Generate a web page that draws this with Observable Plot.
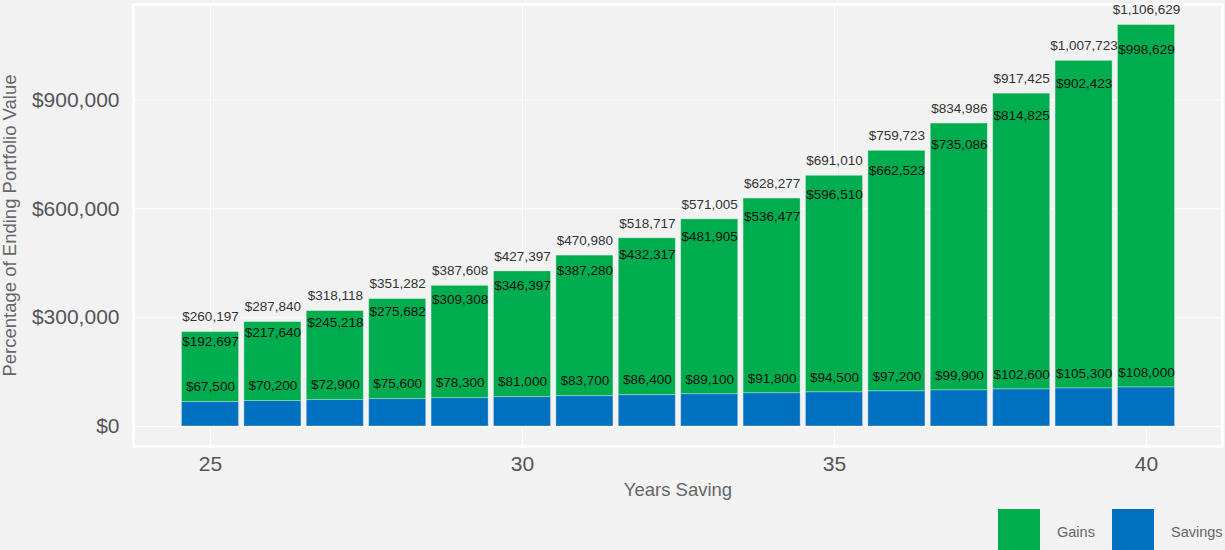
<!DOCTYPE html>
<html>
<head>
<meta charset="utf-8">
<script src="https://cdn.jsdelivr.net/npm/d3@7"></script>
<script src="https://cdn.jsdelivr.net/npm/@observablehq/plot@0.6"></script>
<style>
  html, body { margin: 0; padding: 0; background: #f2f2f2; }
  body { width: 1225px; height: 550px; overflow: hidden; font-family: "Liberation Sans", Arial, sans-serif; }
  #legend { position: relative; width: 1225px; height: 45px; }
  .sw { position: absolute; top: 4px; width: 42px; height: 42px; }
  .lt { position: absolute; top: 18px; font-size: 14.5px; color: #666; line-height: 18px; }
</style>
</head>
<body>
<div id="chart"></div>
<div id="legend"></div>
<script>
const years = [25, 26, 27, 28, 29, 30, 31, 32, 33, 34, 35, 36, 37, 38, 39, 40];
const savings = [67500, 70200, 72900, 75600, 78300, 81000, 83700, 86400, 89100, 91800, 94500, 97200, 99900, 102600, 105300, 108000];
const gains = [192697, 217640, 245218, 275682, 309308, 346397, 387280, 432317, 481905, 536477, 596510, 662523, 735086, 814825, 902423, 998629];
const totals = [260197, 287840, 318118, 351282, 387608, 427397, 470980, 518717, 571005, 628277, 691010, 759723, 834986, 917425, 1007723, 1106629];
const yTicks = [0, 300000, 600000, 900000];
const xTicks = [25, 30, 35, 40];
const seriesNames = ["Gains", "Savings"];
const seriesColors = ["#00ad4e", "#0070c0"];

const data = years.map((y, i) => ({year: y, savings: savings[i], gains: gains[i], total: totals[i]}));
const fmt = d => "$" + d3.format(",")(d);
const half = 0.457;

const chart = Plot.plot({
  width: 1225,
  height: 505,
  marginLeft: 133,
  marginRight: 3,
  marginTop: 4,
  marginBottom: 59,
  style: {background: "#f2f2f2", fontFamily: "'Liberation Sans', Arial, sans-serif"},
  x: {type: "linear", domain: [23.766, 41.218]},
  y: {domain: [-55130, 1163200]},
  marks: [
    Plot.gridY(yTicks, {stroke: "white", strokeOpacity: 1, strokeWidth: 1}),
    Plot.gridX(xTicks, {stroke: "white", strokeOpacity: 1, strokeWidth: 1}),
    Plot.frame({stroke: "white", strokeWidth: 2.5}),
    Plot.rectY(data, {x1: d => d.year - half, x2: d => d.year + half, y1: 0, y2: "savings", fill: seriesColors[1], stroke: "white", strokeOpacity: 0.3, strokeWidth: 1}),
    Plot.rectY(data, {x1: d => d.year - half, x2: d => d.year + half, y1: "savings", y2: "total", fill: seriesColors[0], stroke: "white", strokeOpacity: 0.3, strokeWidth: 1}),
    Plot.text(data, {x: "year", y: "total", text: d => fmt(d.total), dy: -15, fontSize: 13.5, fill: "#333"}),
    Plot.text(data, {x: "year", y: "gains", text: d => fmt(d.gains), dy: -15, fontSize: 13.5, fill: "#111"}),
    Plot.text(data, {x: "year", y: "savings", text: d => fmt(d.savings), dy: -15, fontSize: 13.5, fill: "#111"}),
    Plot.axisY(yTicks, {tickSize: 0, tickPadding: 14, tickFormat: fmt, fontSize: 21, fill: "#555", label: null}),
    Plot.axisX(xTicks, {tickSize: 0, tickPadding: 10, tickFormat: d => String(d), fontSize: 21, fill: "#555", label: null}),
    Plot.text(["Years Saving"], {frameAnchor: "bottom", dy: 49, fontSize: 18.5, fill: "#666"}),
    Plot.text(["Percentage of Ending Portfolio Value"], {frameAnchor: "left", textAnchor: "middle", dx: -123, rotate: -90, fontSize: 18.5, fill: "#666"})
  ]
});
document.getElementById("chart").appendChild(chart);

const legend = document.getElementById("legend");
const swX = [998, 1112];
const txX = [1057, 1171];
seriesNames.forEach((name, i) => {
  const sw = document.createElement("div");
  sw.className = "sw";
  sw.style.left = swX[i] + "px";
  sw.style.background = seriesColors[i];
  legend.appendChild(sw);
  const t = document.createElement("div");
  t.className = "lt";
  t.style.left = txX[i] + "px";
  t.textContent = name;
  legend.appendChild(t);
});
</script>
</body>
</html>
